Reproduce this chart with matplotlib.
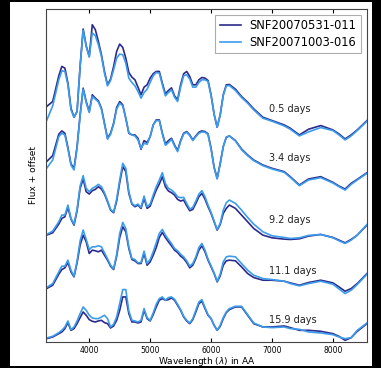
import matplotlib
matplotlib.use('Agg')
import matplotlib.pyplot as plt
from matplotlib.patches import Rectangle

# wavelength grid (AA)
wave = [3300, 3400, 3500, 3550, 3600, 3650, 3700, 3750, 3800, 3850,
        3900, 3950, 4000, 4050, 4100, 4150, 4200, 4250, 4300, 4350,
        4400, 4450, 4500, 4550, 4600, 4650, 4700, 4750, 4800, 4850,
        4900, 4950, 5000, 5050, 5100, 5150, 5200, 5250, 5300, 5350,
        5400, 5450, 5500, 5550, 5600, 5650, 5700, 5750, 5800, 5850,
        5900, 5950, 6000, 6050, 6100, 6150, 6200, 6250, 6300, 6400,
        6500, 6600, 6700, 6850, 7000, 7200, 7300, 7450, 7600, 7800,
        8000, 8100, 8200, 8300, 8400, 8560]

# flux + offset, SNF20070531-011
a_05 = [70.5, 72.0, 79.7, 82.5, 82.0, 77.5, 70.0, 67.3, 69.0, 82.5,
        93.7, 88.7, 85.5, 95.0, 93.5, 90.0, 86.0, 81.0, 77.0, 78.7,
        82.5, 87.0, 89.2, 88.2, 85.0, 80.7, 79.3, 78.5, 76.3, 74.0,
        76.3, 77.0, 79.0, 80.3, 81.0, 81.0, 77.5, 74.3, 75.3, 76.1,
        73.7, 72.5, 77.0, 80.3, 81.0, 79.5, 77.0, 77.0, 78.5, 79.2,
        79.0, 78.3, 74.0, 68.2, 64.3, 68.0, 74.0, 77.0, 77.1, 75.7,
        73.5, 71.8, 69.8, 67.3, 66.3, 65.0, 64.0, 62.0, 63.7, 64.8,
        63.5, 62.3, 60.8, 62.0, 63.5, 66.3]
a_34 = [54.0, 55.8, 62.2, 63.2, 62.5, 58.2, 53.3, 52.0, 58.5, 68.0,
        76.0, 72.0, 69.0, 74.0, 73.0, 72.2, 70.0, 65.5, 61.0, 62.5,
        65.5, 70.2, 72.0, 71.0, 67.0, 62.5, 62.0, 62.0, 61.0, 57.7,
        60.3, 59.7, 61.5, 65.0, 66.5, 66.5, 62.5, 59.3, 60.3, 61.0,
        59.0, 57.3, 60.3, 62.5, 63.0, 62.0, 60.5, 61.7, 62.8, 63.2,
        63.0, 62.3, 58.0, 52.3, 49.0, 53.5, 58.5, 61.3, 61.7, 60.3,
        57.8, 56.0, 54.5, 53.0, 52.0, 51.0, 49.5, 47.0, 48.8, 49.5,
        47.8, 46.7, 45.8, 47.5, 48.7, 50.7]
a_92 = [32.0, 32.7, 35.3, 37.0, 37.5, 40.3, 36.8, 35.0, 39.3, 46.0,
        48.8, 45.0, 44.3, 45.3, 45.7, 46.5, 45.8, 44.3, 42.0, 39.5,
        38.7, 42.2, 47.7, 52.5, 51.0, 44.5, 41.3, 40.5, 41.0, 40.0,
        43.0, 40.0, 40.7, 43.2, 45.5, 47.3, 49.5, 46.5, 45.2, 44.7,
        44.0, 42.7, 42.2, 42.5, 40.8, 39.3, 39.7, 41.5, 43.5, 44.5,
        42.8, 40.5, 38.5, 36.0, 33.5, 35.2, 38.5, 40.0, 41.0, 40.0,
        38.0, 36.0, 34.0, 32.0, 31.2, 30.8, 30.7, 30.9, 31.7, 32.2,
        31.3, 30.5, 29.7, 30.7, 32.0, 35.0]
a_111 = [16.0, 17.0, 20.3, 21.7, 22.2, 23.8, 21.0, 19.5, 23.7, 29.0,
         32.0, 30.0, 26.5, 27.5, 27.3, 27.0, 27.5, 26.0, 24.5, 22.7,
         21.7, 25.7, 31.3, 34.5, 33.0, 28.0, 24.7, 24.3, 23.5, 23.5,
         26.5, 23.0, 24.0, 26.0, 28.3, 31.3, 32.8, 31.3, 30.0, 28.8,
         27.5, 26.8, 25.7, 25.0, 23.8, 22.2, 23.0, 25.0, 27.5, 28.8,
         27.0, 24.5, 22.5, 20.5, 18.0, 19.8, 23.0, 24.3, 24.5, 24.3,
         22.5, 20.5, 19.3, 18.5, 18.5, 18.2, 17.7, 17.0, 17.8, 18.5,
         17.7, 16.5, 15.2, 16.0, 17.5, 20.5]
a_159 = [1.0, 1.5, 2.5, 3.0, 4.0, 5.8, 3.5, 4.0, 5.5, 7.3,
         9.0, 8.0, 6.7, 6.2, 6.0, 6.3, 6.5, 5.8, 5.5, 4.2,
         4.8, 6.5, 9.5, 13.5, 13.5, 8.5, 6.0, 6.0, 5.7, 6.0,
         9.5, 7.0, 6.3, 8.2, 10.5, 12.5, 13.0, 12.5, 12.7, 13.2,
         12.5, 11.0, 9.5, 7.5, 6.3, 5.5, 6.7, 9.0, 11.5, 12.2,
         10.0, 8.0, 7.0, 5.0, 3.5, 4.7, 7.0, 8.8, 9.7, 10.5,
         10.5, 8.0, 5.5, 4.5, 4.5, 4.8, 4.3, 3.5, 3.5, 3.2,
         2.5, 1.7, 0.5, 1.3, 3.2, 5.5]

# flux + offset, SNF20071003-016
b_05 = [66.3, 70.7, 78.5, 81.2, 81.0, 77.0, 69.5, 67.3, 69.0, 82.5,
        93.3, 88.5, 85.3, 92.5, 91.7, 89.0, 85.5, 80.5, 76.7, 78.3,
        81.5, 85.0, 86.2, 86.0, 83.5, 79.0, 77.7, 76.7, 75.0, 73.0,
        74.7, 75.7, 77.7, 79.7, 80.7, 80.5, 77.0, 73.7, 74.7, 75.5,
        73.3, 72.0, 76.3, 79.7, 80.0, 78.7, 76.3, 76.3, 77.7, 78.5,
        78.5, 78.0, 73.8, 68.2, 64.3, 68.0, 73.8, 76.7, 76.8, 75.3,
        73.2, 71.5, 69.5, 67.0, 66.1, 64.7, 63.7, 61.7, 62.9, 64.2,
        63.3, 62.0, 60.5, 61.7, 63.3, 66.1]
b_34 = [52.0, 54.5, 61.5, 62.5, 62.0, 57.8, 53.0, 51.5, 58.0, 67.7,
        75.7, 71.7, 68.7, 73.5, 72.7, 71.9, 69.7, 65.2, 60.7, 62.2,
        65.2, 69.7, 71.5, 70.7, 67.0, 62.7, 62.0, 61.7, 60.5, 58.0,
        59.5, 59.2, 61.5, 65.0, 66.3, 66.3, 62.3, 58.9, 59.7, 60.7,
        58.7, 57.0, 60.0, 62.3, 62.8, 61.8, 60.3, 61.5, 62.5, 62.9,
        62.8, 62.1, 57.8, 52.2, 48.8, 53.3, 58.5, 61.3, 61.7, 60.2,
        57.6, 55.8, 54.3, 52.8, 51.8, 50.8, 49.3, 46.8, 48.5, 49.2,
        47.6, 46.5, 45.5, 47.2, 48.5, 50.5]
b_92 = [32.2, 33.2, 36.0, 38.0, 38.0, 41.0, 37.0, 35.3, 39.7, 46.7,
        49.8, 46.0, 45.0, 46.0, 46.5, 47.2, 46.5, 44.7, 42.3, 39.7,
        38.9, 42.7, 48.5, 53.5, 52.0, 45.0, 41.5, 40.8, 41.3, 40.3,
        43.7, 40.5, 41.3, 44.0, 46.5, 48.5, 50.7, 47.5, 46.0, 45.5,
        44.7, 43.5, 43.2, 43.3, 41.5, 39.8, 40.3, 42.2, 44.3, 45.3,
        43.5, 41.0, 38.8, 36.2, 33.7, 35.5, 39.5, 41.7, 42.5, 41.5,
        39.5, 37.3, 35.3, 33.0, 31.8, 31.3, 31.0, 31.2, 31.9, 32.2,
        31.2, 30.3, 29.5, 30.5, 32.0, 35.2]
b_111 = [16.3, 17.5, 21.0, 22.7, 22.7, 24.5, 21.5, 19.7, 24.2, 30.3,
         33.5, 30.7, 27.7, 28.5, 28.5, 28.8, 28.5, 26.7, 24.9, 23.0,
         21.9, 26.2, 32.5, 35.8, 34.0, 28.5, 25.0, 24.7, 23.7, 23.8,
         27.2, 23.5, 24.7, 27.0, 29.7, 32.5, 33.7, 32.0, 30.7, 29.5,
         28.0, 27.3, 26.3, 25.5, 24.3, 22.7, 23.5, 25.5, 28.3, 29.5,
         27.5, 24.8, 22.8, 20.7, 18.2, 20.3, 24.0, 25.5, 25.7, 25.5,
         23.5, 21.5, 20.0, 19.0, 18.7, 18.2, 17.5, 16.8, 17.5, 18.2,
         17.3, 15.9, 14.5, 15.5, 17.2, 20.3]
b_159 = [1.2, 1.7, 2.8, 3.5, 4.5, 6.3, 3.7, 4.5, 6.3, 8.5,
         10.5, 9.5, 8.0, 7.2, 7.0, 7.0, 7.5, 8.0, 7.0, 4.5,
         5.3, 7.5, 11.5, 15.7, 15.7, 9.3, 6.5, 6.3, 6.0, 6.5,
         10.0, 7.3, 6.5, 8.7, 11.3, 13.0, 13.5, 12.5, 13.3, 13.5,
         12.8, 11.3, 9.7, 7.7, 6.5, 5.7, 7.0, 9.5, 12.0, 12.7,
         10.3, 8.2, 7.0, 5.0, 3.5, 5.0, 7.3, 9.0, 10.0, 10.7,
         10.7, 8.2, 5.7, 4.5, 4.3, 4.5, 4.0, 3.8, 3.0, 2.7,
         2.2, 1.5, 1.0, 1.3, 3.5, 5.7]

epochs = ['0.5 days', '3.4 days', '9.2 days', '11.1 days', '15.9 days']
label_y = [69.7, 55.0, 36.5, 21.2, 6.5]
sn_a = [a_05, a_34, a_92, a_111, a_159]
sn_b = [b_05, b_34, b_92, b_111, b_159]
names = ['SNF20070531-011', 'SNF20071003-016']

dark = '#2b2a8a'
light = '#3c9cec'

fig = plt.figure(figsize=(3.81, 3.68), dpi=100, facecolor='black')
fig.add_artist(Rectangle((10/381, 2/368), 362/381, 364/368, transform=fig.transFigure,
                         facecolor='white', edgecolor='none', zorder=0))
ax = fig.add_axes([46/381, 26/368, 321/381, 333/368])

for i in range(len(epochs)):
    ax.plot(wave, sn_a[i], color=dark, lw=1.2, label=names[0] if i == 0 else None)
    ax.plot(wave, sn_b[i], color=light, lw=1.2, label=names[1] if i == 0 else None)
    ax.text(6950, label_y[i], epochs[i], fontsize=7, va='center', ha='left', color='#222222')

ax.set_xlim(3290, 8560)
ax.set_ylim(0, 99.7)
ax.set_yticks([])
ax.set_xticks([4000, 5000, 6000, 7000, 8000])
ax.tick_params(axis='x', direction='in', top=True, length=3, labelsize=5.5, pad=3)
for s in ax.spines.values():
    s.set_color('#444444')
    s.set_linewidth(0.8)
ax.set_xlabel('Wavelength ($\\lambda$) in AA', fontsize=6.5, labelpad=0)
ax.set_ylabel('Flux + offset', fontsize=6.5, labelpad=6)

leg = ax.legend(loc='upper right', fontsize=8.3, fancybox=False, handlelength=1.8,
                borderpad=0.4, labelspacing=0.3, borderaxespad=0.5)
leg.get_frame().set_edgecolor('#999999')
leg.get_frame().set_linewidth(0.8)

fig.savefig('out.png', dpi=100, facecolor=fig.get_facecolor())
